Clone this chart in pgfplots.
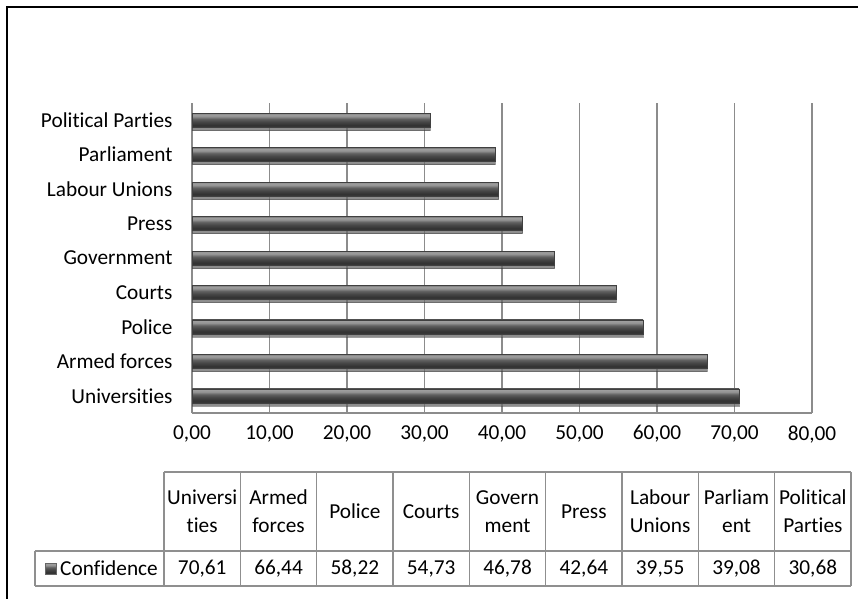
\documentclass[border=0pt]{standalone}
\usepackage{pgfplots}
\pgfplotsset{compat=1.18}
\usetikzlibrary{shadows}
\usepackage{fontspec}
\setmainfont{Carlito}[Ligatures=CommonOff]

\definecolor{gridgray}{HTML}{8C8C8C}
\definecolor{linegray}{HTML}{8F8F8F}
% bar look: light band on top, darker towards the bottom
\pgfdeclareverticalshading{barshade}{100bp}{%
  color(0bp)=(black!78); color(25bp)=(black!78); color(33bp)=(black!80);
  color(45bp)=(black!72); color(55bp)=(black!62); color(64bp)=(black!42);
  color(71bp)=(black!38); color(75bp)=(black!55); color(100bp)=(black!55)}

\pgfplotsset{confbar/.style={shade, shading=barshade, draw=black!75, line width=0.5pt,
  drop shadow={shadow xshift=0pt, shadow yshift=-3pt, fill=black!18}}}

\newcommand{\chartfont}{\fontsize{21.3}{28}\selectfont}

\begin{document}
\begin{tikzpicture}[x=1pt,y=1pt]
\useasboundingbox (0,0) rectangle (858,598);
% outer frame (only left and top edges are in view)
\draw[line width=2.5pt] (7,-5) -- (7,591) -- (865,591);

\begin{axis}[
  at={(192pt,185pt)}, anchor=south west,
  scale only axis, width=620pt, height=310pt,
  xbar, bar width=14pt, bar shift=0pt,
  xmin=0, xmax=80, ymin=-0.5, ymax=8.5,
  xtick={0,10,...,80},
  ytick={0,...,8},
  yticklabels={Universities,Armed forces,Police,Courts,Government,Press,Labour Unions,Parliament,Political Parties},
  axis lines*=left,
  axis line style={draw=gridgray, line width=1.5pt},
  xmajorgrids, grid style={draw=gridgray, line width=1.5pt},
  major tick length=0pt,
  tick label style={font=\chartfont, text=black},
  xticklabel style={yshift=-9pt},
  /pgf/number format/fixed, /pgf/number format/fixed zerofill,
  /pgf/number format/precision=2, /pgf/number format/use comma,
  /pgf/number format/assume math mode=true,
  yticklabel style={xshift=-16pt},
  clip=false,
]
% one plot per bar so that each bar gets its own shading
\addplot[confbar] coordinates {(70.61,0)};
\addplot[confbar] coordinates {(66.44,1)};
\addplot[confbar] coordinates {(58.22,2)};
\addplot[confbar] coordinates {(54.73,3)};
\addplot[confbar] coordinates {(46.78,4)};
\addplot[confbar] coordinates {(42.64,5)};
\addplot[confbar] coordinates {(39.55,6)};
\addplot[confbar] coordinates {(39.08,7)};
\addplot[confbar] coordinates {(30.68,8)};
\end{axis}

% data table under the chart
\begin{scope}[linegray, line width=1.3pt]
  \draw (164,126) -- (851,126);
  \draw (35,47) -- (851,47);
  \draw (35,12) -- (851,12);
  \draw (35,47) -- (35,12);
  \foreach \k in {0,...,9} \draw (164+76.33*\k,126) -- (164+76.33*\k,12);
\end{scope}
\foreach \lab [count=\i from 0] in {Universi\\ties,Armed\\forces,Police,Courts,Govern\\ment,Press,Labour\\Unions,Parliam\\ent,Political\\Parties}
  \node[align=center, font=\chartfont, inner sep=0pt] at (202.2+76.33*\i,86.5) {\lab};
\foreach \v [count=\i from 0] in {{70,61},{66,44},{58,22},{54,73},{46,78},{42,64},{39,55},{39,08},{30,68}}
  \node[font=\chartfont, inner sep=0pt] at (202.2+76.33*\i,29.5) {\v};
\shade[shading=barshade, draw=black!60, line width=0.5pt] (45,24) rectangle (56,35);
\node[anchor=west, font=\chartfont, inner sep=0pt] at (60,29.5) {Confidence};
\end{tikzpicture}
\end{document}
